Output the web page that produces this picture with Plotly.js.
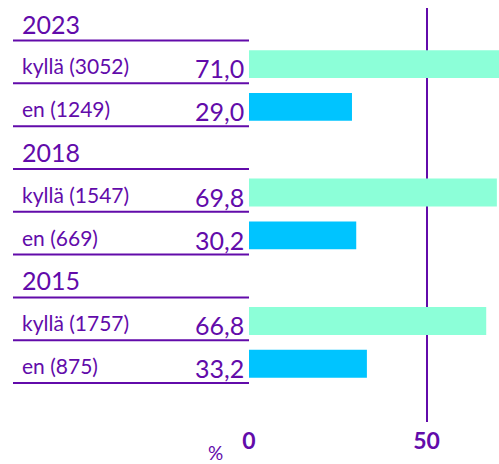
<!DOCTYPE html>
<html>
<head>
<meta charset="utf-8">
<script src="https://cdn.plot.ly/plotly-3.0.1.min.js"></script>
<style>html,body{margin:0;padding:0;background:#fff;}</style>
</head>
<body>
<div id="chart" style="width:499px;height:464px;"></div>
<script>
const categories = ['2023','kyllä (3052)','en (1249)','2018','kyllä (1547)','en (669)','2015','kyllä (1757)','en (875)'];
const values = [null, 71.0, 29.0, null, 69.8, 30.2, null, 66.8, 33.2];
const valueLabels = ['', '71,0', '29,0', '', '69,8', '30,2', '', '66,8', '33,2'];
const isHeader = [true, false, false, true, false, false, true, false, false];
const answerColors = {kyllä: '#8CFFD8', en: '#00C4FF'};
const xTickVals = [0, 50];
const xTickText = ['0', '50'];
const unitLabel = '%';

const purple = '#620BAA';
const font = 'Lato, "Open Sans", sans-serif';

const barColors = categories.map(c => c.startsWith('kyllä') ? answerColors['kyllä'] : answerColors['en']);

const trace = {
  type: 'bar',
  orientation: 'h',
  y: categories,
  x: values,
  marker: {color: barColors},
  width: 0.65,
  hoverinfo: 'skip',
  cliponaxis: true
};

const shapes = [];
const annotations = [];
categories.forEach((c, i) => {
  shapes.push({
    type: 'line', xref: 'paper', yref: 'y',
    x0: -0.944, x1: 0, y0: i + 0.45, y1: i + 0.45,
    line: {color: purple, width: 2}
  });
  if (isHeader[i]) {
    annotations.push({
      xref: 'paper', yref: 'y', x: -0.918, y: i + 0.45,
      xanchor: 'left', yanchor: 'bottom', yshift: 0,
      text: c, showarrow: false,
      font: {family: font, size: 25, color: purple}
    });
  } else {
    annotations.push({
      xref: 'paper', yref: 'y', x: -0.918, y: i + 0.45,
      xanchor: 'left', yanchor: 'bottom', yshift: 3,
      text: c, showarrow: false,
      font: {family: font, size: 21, color: purple}
    });
    annotations.push({
      xref: 'paper', yref: 'y', x: -0.012, y: i + 0.45,
      xanchor: 'right', yanchor: 'bottom', yshift: -2,
      text: valueLabels[i], showarrow: false,
      font: {family: font, size: 25, color: purple}
    });
  }
});
annotations.push({
  xref: 'paper', yref: 'paper', x: -0.136, y: -0.074,
  xanchor: 'center', yanchor: 'middle',
  text: unitLabel, showarrow: false,
  font: {family: font, size: 19, color: purple}
});

const layout = {
  width: 499, height: 464,
  margin: {l: 249, r: 0, t: 8, b: 42, pad: 0},
  paper_bgcolor: '#fff', plot_bgcolor: '#fff',
  showlegend: false,
  font: {family: font, color: purple},
  xaxis: {
    range: [0, 70.4],
    tickvals: xTickVals, ticktext: xTickText,
    showgrid: true, gridcolor: purple, gridwidth: 2,
    zeroline: false, showline: false, ticks: '',
    ticklabelstandoff: 3,
    tickfont: {family: font, size: 23, color: purple, weight: 'bold'},
    fixedrange: true
  },
  yaxis: {
    type: 'category',
    range: [9.36, -0.31],
    showticklabels: false, showgrid: false, zeroline: false, showline: false, ticks: '',
    fixedrange: true
  },
  shapes: shapes,
  annotations: annotations
};

Plotly.newPlot('chart', [trace], layout, {displayModeBar: false, staticPlot: true});
</script>
</body>
</html>
